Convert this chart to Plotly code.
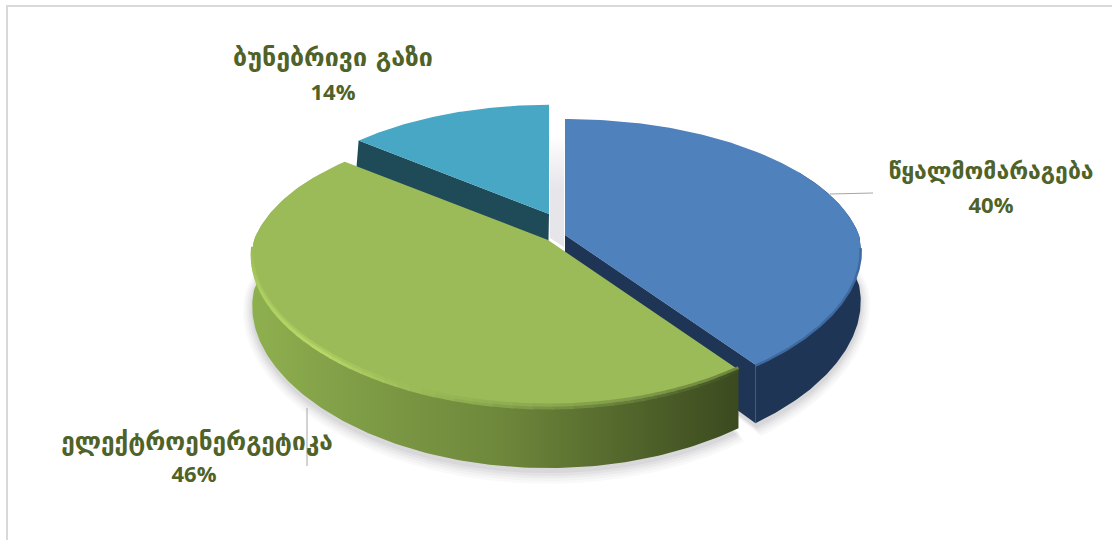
import math
import numpy as np
import plotly.graph_objects as go

# ---- data ----
categories = ["წყალმომარაგება", "ელექტროენერგეტიკა", "ბუნებრივი გაზი"]
shares = [40, 46, 14]

# ---- style / layout ----
TOP_COLORS = {0: "#4f81bd", 1: "#9bbb59", 2: "#47a7c5"}
WALL_BLUE = "#1f3556"
WALL_TEAL = "#1f4a57"
TEXT_COLOR = "#4f6228"
APEX = {0: (565, 235), 1: (548, 240), 2: (549, 214)}
SCALE = {0: 1.0, 1: 1.0, 2: 0.93}
RX, RY, PERSP, DEPTH = 294.0, 137.0, 0.18, 50.0
NAME_POS = {0: (991, 173), 1: (197, 444), 2: (333, 60)}
PCT_POS = {0: (991, 207), 1: (194, 476), 2: (333, 94)}
NAME_SIZE = {0: 23, 1: 24.4, 2: 25}

# slice angles, clockwise from the top, from the values
total = sum(shares)
edges = np.cumsum([0] + shares) / total * 360.0


def project(theta_deg, slice_i, depth=0.0, radius=1.0):
    t = np.radians(np.asarray(theta_deg, dtype=float))
    ax, ay = APEX[slice_i]
    k = SCALE[slice_i] * radius
    u, v = k * np.sin(t), -k * np.cos(t)
    s = 1.0 / (1.0 - PERSP * v)
    sx = np.where(v < 0, s, 1 + (s - 1) * 0.6)
    return ax + RX * u * sx, ay + RY * v * s + depth * s


def arc(i, a0=None, a1=None, n=160, depth=0.0):
    a0 = edges[i] if a0 is None else a0
    a1 = edges[i + 1] if a1 is None else a1
    return project(np.linspace(a0, a1, n), i, depth)


fig = go.Figure()


def poly(x, y, color=None, **kw):
    fig.add_trace(go.Scatter(x=list(x), y=list(y), mode="lines", fill="toself",
                             fillcolor=color, line=dict(width=0),
                             hoverinfo="skip", showlegend=False, **kw))


def line(x, y, color, width):
    fig.add_trace(go.Scatter(x=list(x), y=list(y), mode="lines",
                             line=dict(color=color, width=width, shape="linear"),
                             hoverinfo="skip", showlegend=False))


# soft ground shadow
for grow, a in [(9, .035), (7, .04), (5, .05), (3, .06), (1, .07)]:
    for i in (0, 1):
        xs, ys = arc(i, n=120, depth=DEPTH + 3)
        ax, ay = APEX[i]
        gx = (xs - ax) * (1 + grow / RX) + ax
        gy = (ys - ay - DEPTH) * (1 + grow / RY) + ay + DEPTH
        poly(np.r_[ax, gx], np.r_[ay + DEPTH, gy], f"rgba(90,90,105,{a})")

# shadow in the gap between the exploded slices
gx0, gx1 = APEX[2][0] + 1, APEX[0][0] - 1
poly([gx0, gx1, gx1, gx0], [135, 135, 247, 238], None,
     fillgradient=dict(type="vertical", start=135, stop=190,
                       colorscale=[[0, "#ffffff"], [1, "#e5e5ea"]]))

# teal slice: cut wall then top
i = 2
x0, y0 = project(edges[2], i)
ax, ay = APEX[i]
poly([ax, x0, x0 - 4, ax - 1], [ay, y0, y0 + DEPTH, ay + DEPTH], WALL_TEAL)
x, y = arc(i)
poly(np.r_[ax, x], np.r_[ay, y], TOP_COLORS[i])

# blue slice: cut wall, rim wall, top
i = 0
ax, ay = APEX[i]
xe, ye = project(edges[1], i)
xd, yd = project(edges[1], i, DEPTH)
poly([ax, xe, xd, ax], [ay, ye, yd, ay + DEPTH], WALL_BLUE)
xt, yt = arc(i, 60, edges[1])
xb, yb = arc(i, 60, edges[1], depth=DEPTH)
poly(np.r_[xt, xb[::-1]], np.r_[yt, yb[::-1]], WALL_BLUE)
x, y = arc(i)
poly(np.r_[ax, x], np.r_[ay, y], TOP_COLORS[i])
xr, yr = arc(i, 95, edges[1])
line(xr, yr + 1, "#3f6aa0", 2.5)

# green slice: wall with gradient, top, rim highlight
i = 1
ax, ay = APEX[i]
xt, yt = arc(i, edges[1], 300)
xb, yb = arc(i, edges[1], 300, depth=DEPTH)
poly(np.r_[xt, xb[::-1]], np.r_[yt, yb[::-1]], None,
     fillgradient=dict(type="horizontal", start=250, stop=738,
                       colorscale=[[0, "#8fb04f"], [.25, "#7d9a45"], [.5, "#6f893c"],
                                   [.75, "#55692d"], [1, "#3b4a1f"]]))
x, y = arc(i)
poly(np.r_[ax, x], np.r_[ay, y], TOP_COLORS[i])

rim_stops = [(edges[1], (62, 78, 32)), (165, (100, 124, 56)), (200, (150, 182, 84)),
             (225, (184, 216, 104)), (250, (172, 206, 96)), (266, (155, 187, 89))]
TOP_RGB = (155, 187, 89)
for offset, blend, width in [(-2, 0.5, 3), (1, 0.0, 3)]:
    for (a0, c0), (a1, c1) in zip(rim_stops, rim_stops[1:]):
        for j in range(10):
            f0, f1 = j / 10, (j + 1) / 10
            c = [c0[m] + (c1[m] - c0[m]) * (f0 + f1) / 2 for m in range(3)]
            c = [round(c[m] * (1 - blend) + TOP_RGB[m] * blend) for m in range(3)]
            xs, ys = arc(i, a0 + (a1 - a0) * f0, a0 + (a1 - a0) * f1 + .3, 12)
            line(xs, ys + offset, f"rgb({c[0]},{c[1]},{c[2]})", width)

# leader lines
line([830, 873], [194, 193], "#a6a6a6", 1)
line([307, 307], [408, 466], "#a6a6a6", 1)

# labels
for i, name in enumerate(categories):
    pct = f"{round(shares[i] / total * 100)}%"
    fig.add_trace(go.Scatter(x=[NAME_POS[i][0]], y=[NAME_POS[i][1]], mode="text", text=[f"<b>{name}</b>"],
                             textposition="middle center", hoverinfo="skip", showlegend=False,
                             textfont=dict(family="DejaVu Sans", size=NAME_SIZE[i], color=TEXT_COLOR)))
    fig.add_trace(go.Scatter(x=[PCT_POS[i][0]], y=[PCT_POS[i][1]], mode="text", text=[f"<b>{pct}</b>"],
                             textposition="middle center", hoverinfo="skip", showlegend=False,
                             textfont=dict(family="Open Sans", size=22, color=TEXT_COLOR)))

fig.update_layout(
    width=1112, height=540, autosize=False,
    margin=dict(l=0, r=0, t=0, b=0),
    paper_bgcolor="white", plot_bgcolor="white",
    xaxis=dict(range=[0, 1112], visible=False, fixedrange=True),
    yaxis=dict(range=[540, 0], visible=False, fixedrange=True),
    shapes=[
        dict(type="line", xref="x", yref="y", x0=7, x1=7, y0=5, y1=540,
             line=dict(color="#d9d9d9", width=2), layer="below"),
        dict(type="line", xref="x", yref="y", x0=6, x1=1112, y0=6, y1=6,
             line=dict(color="#d9d9d9", width=2), layer="below"),
    ],
)
fig.write_html("out.html", config={"displayModeBar": False},
               post_script="document.body.style.margin='0';document.body.style.overflow='hidden';")
